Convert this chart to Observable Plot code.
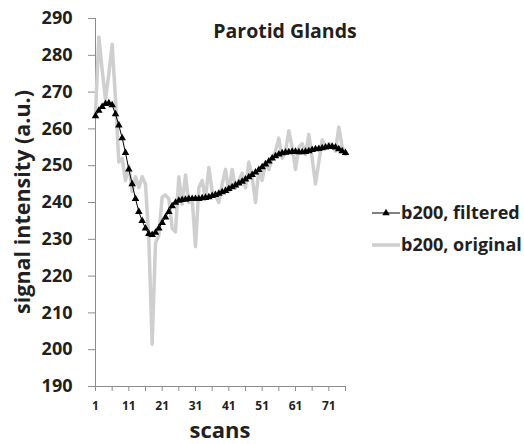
<!DOCTYPE html>
<html>
<head>
<meta charset="utf-8">
<script src="https://cdn.jsdelivr.net/npm/d3@7"></script>
<script src="https://cdn.jsdelivr.net/npm/@observablehq/plot@0.6"></script>
<style>
  html, body { margin: 0; padding: 0; background: #fff; }
  #chart { width: 524px; height: 444px; position: relative; }
</style>
</head>
<body>
<div id="chart"></div>
<script>
// Series values (scans 1..76)
const original = [
  264, 285, 276, 268, 275, 283, 268, 251, 252, 246,
  250, 243, 247, 244, 247, 245, 230, 201.5, 229, 231,
  241.5, 242, 241, 233, 232, 247, 239.5, 247.5, 240, 241,
  228, 244, 246, 241, 249.5, 243, 242, 240, 245, 249,
  243, 249, 244, 246, 248, 244, 251, 247, 240, 249,
  246, 251, 249, 252, 254, 257.5, 252, 254, 259.5, 255,
  249, 255, 256, 253, 258.5, 252, 245, 251, 257, 255,
  256, 255.5, 254, 260.5, 255, 253
];
const filtered = [
  263.5, 265, 266, 266.8, 267, 266.5, 264, 261, 257.5, 253.5,
  249, 245, 241, 237.5, 235, 233, 231.5, 231.2, 231.8, 233,
  234.5, 236, 237.5, 239, 240, 240.5, 240.7, 240.8, 241, 241,
  241, 241, 241.2, 241.3, 241.5, 241.8, 242.1, 242.4, 242.8, 243.2,
  243.7, 244.2, 244.7, 245.2, 245.7, 246.3, 246.9, 247.5, 248.2, 248.9,
  249.6, 250.4, 251.2, 252, 252.6, 253.1, 253.4, 253.6, 253.7, 253.8,
  253.8, 253.7, 253.7, 253.8, 254, 254.3, 254.5, 254.6, 254.8, 255,
  255.2, 255.2, 255, 254.5, 254, 253.5
];
const scans = original.map((_, i) => i + 1);
const yTicks = [190, 200, 210, 220, 230, 240, 250, 260, 270, 280, 290];
const xTickMarks = [1, 6, 11, 16, 21, 26, 31, 36, 41, 46, 51, 56, 61, 66, 71, 76];
const xTickLabels = [1, 11, 21, 31, 41, 51, 61, 71];
const seriesNames = ["b200, filtered", "b200, original"];
const title = "Parotid Glands";
const xTitle = "scans";
const yTitle = "signal intensity (a.u.)";

const origData = scans.map((s, i) => ({scan: s, value: original[i]}));
const filtData = scans.map((s, i) => ({scan: s, value: filtered[i]}));

const axisGray = "#8c8c8c";
const textColor = "#231f20";
const lineGray = "#cfcfcf";
const font = "'Open Sans', Lato, sans-serif";

const plot = Plot.plot({
  width: 524,
  height: 444,
  marginLeft: 95,
  marginRight: 179,
  marginTop: 18,
  marginBottom: 58,
  style: {fontFamily: font, fontWeight: "bold", background: "white", color: textColor},
  x: {domain: [1, 76]},
  y: {domain: [190, 290]},
  marks: [
    Plot.axisY({ticks: yTicks, tickSize: 7, tickPadding: 16, fontSize: 18, stroke: axisGray, fill: textColor, label: null}),
    Plot.axisX({ticks: xTickMarks, tickSize: 5, tickPadding: 10, fontSize: 12, stroke: axisGray, fill: textColor, label: null,
      tickFormat: d => xTickLabels.includes(d) ? String(d) : ""}),
    Plot.ruleX([1], {stroke: axisGray}),
    Plot.ruleY([190], {stroke: axisGray}),
    Plot.line(origData, {x: "scan", y: "value", stroke: lineGray, strokeWidth: 3.5, strokeLinejoin: "round"}),
    Plot.line(filtData, {x: "scan", y: "value", stroke: "#000", strokeWidth: 1}),
    Plot.dot(filtData, {x: "scan", y: "value", symbol: "triangle", r: 2.8, fill: "#000", stroke: "none"})
  ]
});

document.getElementById("chart").appendChild(plot);

// Titles and legend (layout elements)
const svg = d3.select(plot);
const addText = (x, y, size, str, anchor) => svg.append("text")
  .attr("x", x).attr("y", y).attr("text-anchor", anchor)
  .attr("font-family", font).attr("font-weight", "bold").attr("font-size", size)
  .attr("fill", textColor).text(str);

addText(285, 38, 19.5, title, "middle");
addText(220, 438, 22, xTitle, "middle");
svg.append("text").attr("transform", "translate(30,202) rotate(-90)").attr("text-anchor", "middle")
  .attr("font-family", font).attr("font-weight", "bold").attr("font-size", 21.5).attr("fill", textColor).text(yTitle);

svg.append("line").attr("x1", 372).attr("x2", 400).attr("y1", 213).attr("y2", 213).attr("stroke", "#000").attr("stroke-width", 1);
svg.append("path").attr("d", d3.symbol(d3.symbolTriangle, 24)()).attr("transform", "translate(386,213)").attr("fill", "#000");
addText(401, 219, 18, seriesNames[0], "start");
svg.append("line").attr("x1", 372).attr("x2", 400).attr("y1", 245).attr("y2", 245).attr("stroke", lineGray).attr("stroke-width", 3.5);
addText(401, 251, 18, seriesNames[1], "start");
</script>
</body>
</html>
